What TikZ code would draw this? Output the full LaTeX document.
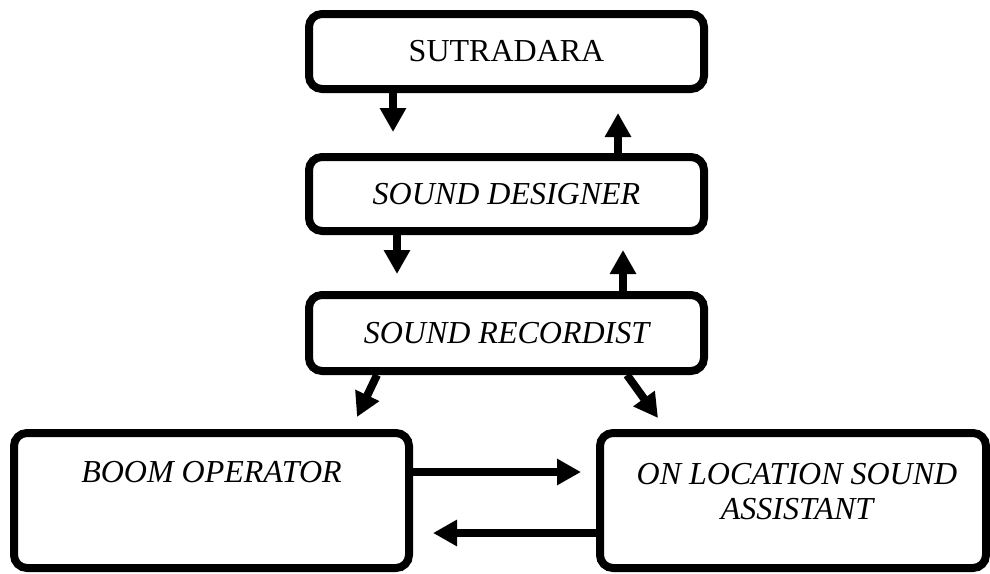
\documentclass[tikz,border=0pt]{standalone}
\usepackage{fontspec}
\setmainfont{Liberation Serif}
\usetikzlibrary{arrows.meta}
\begin{document}
\begin{tikzpicture}[x=1pt,y=-1pt,
  box/.style={draw=black,line width=8pt,rounded corners=13pt,fill=white,inner sep=0pt},
  lbl/.style={font=\fontsize{32}{35}\selectfont,align=center,inner sep=0pt},
  arr/.style={line width=8pt,-{Triangle[width=25pt,length=24pt]}}]
\useasboundingbox (0,0) rectangle (990,573);
\node[box,minimum width=395pt,minimum height=75pt,lbl] (sut) at (506.5,51.5) {SUTRADARA};
\node[box,minimum width=395pt,minimum height=74pt,lbl] (sd) at (506.5,194) {\itshape SOUND DESIGNER};
\node[box,minimum width=395pt,minimum height=76pt,lbl] (sr) at (506.5,333) {\itshape SOUND RECORDIST};
\node[box,minimum width=395pt,minimum height=135pt] (boom) at (211.5,500.5) {};
\node[box,minimum width=386pt,minimum height=135pt] (olsa) at (793,500.5) {};
\node[lbl,anchor=north] (boomtxt) at ([yshift=-32pt]boom.north) {\itshape BOOM OPERATOR};
\node[lbl,anchor=north] (olsatxt) at ([xshift=4pt,yshift=-34pt]olsa.north) {\itshape ON LOCATION SOUND\\ \itshape ASSISTANT};
\coordinate (t1) at (393,132);
\coordinate (t2) at (618,113);
\coordinate (t3) at (397,274);
\coordinate (t4) at (623,250);
\coordinate (t5) at (357,417);
\coordinate (t6) at (658,418);
\coordinate (t7) at (581,472);
\coordinate (t8) at (433,533);
\draw[arr] (sut.south -| t1) -- (t1);
\draw[arr] (sd.north -| t2) -- (t2);
\draw[arr] (sd.south -| t3) -- (t3);
\draw[arr] (sr.north -| t4) -- (t4);
\draw[arr] ([xshift=-129.5pt]sr.south) -- (t5);
\draw[arr] ([xshift=120.5pt]sr.south) -- (t6);
\draw[arr] (boom.east |- t7) -- (t7);
\draw[arr] (olsa.west |- t8) -- (t8);
\end{tikzpicture}
\end{document}
